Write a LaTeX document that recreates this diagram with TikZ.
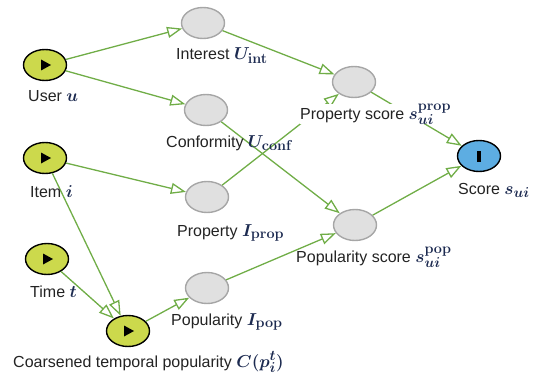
\documentclass[tikz,border=0pt]{standalone}
\usepackage[no-math]{fontspec}
\setmainfont{Liberation Sans}
\usepackage{bm}
\usetikzlibrary{shapes.geometric,arrows.meta}
\definecolor{grn}{RGB}{112,173,71}
\definecolor{limefill}{RGB}{204,217,76}
\definecolor{bluefill}{RGB}{93,173,226}
\definecolor{grayfill}{RGB}{224,224,224}
\definecolor{graybd}{RGB}{166,166,166}
\definecolor{txtc}{RGB}{35,35,35}
\definecolor{mathblue}{RGB}{28,42,80}
\newcommand{\mth}[1]{\textcolor{mathblue}{\fontsize{19}{22}\selectfont\boldmath$#1$}}
\tikzset{
  base/.style={ellipse, minimum width=43pt, minimum height=31pt, inner sep=0pt, line width=1.4pt},
  gnode/.style={base, draw=graybd, fill=grayfill},
  ynode/.style={base, draw=black, fill=limefill},
  bnode/.style={base, draw=black, fill=bluefill},
  lbl/.style={anchor=base west, inner sep=0pt, text=txtc, font=\fontsize{16}{19}\selectfont},
  link/.style={draw=grn, line width=1.3pt, -{Triangle[open, length=15pt, width=11pt, line width=1.3pt]}},
  playicon/.style={fill=black}
}
\begin{document}
\begin{tikzpicture}[x=1pt,y=-1pt]
\useasboundingbox (0,0) rectangle (548,377);
% nodes
\node[ynode] (user) at (45,65) {};
\node[ynode] (item) at (45,158) {};
\node[ynode] (time) at (47,259) {};
\node[ynode] (coarse) at (128,331) {};
\node[gnode] (interest) at (203,23) {};
\node[gnode] (conf) at (206,110) {};
\node[gnode] (prop) at (207,197) {};
\node[gnode] (pop) at (207,288) {};
\node[gnode] (pscore) at (354,82) {};
\node[gnode] (popscore) at (355,225) {};
\node[bnode] (score) at (479,156) {};
% icons
\foreach \n in {user,item,time,coarse}{
  \fill[playicon] ([xshift=-4pt,yshift=5.5pt]\n.center) -- ++(0,-11pt) -- ++(10pt,5.5pt) -- cycle;
}
\fill[black] ([xshift=-2.2pt,yshift=-5.5pt]score.center) rectangle ([xshift=2.2pt,yshift=5.5pt]score.center);
% edges
\draw[link] (user) -- (interest);
\draw[link] (user) -- (conf);
\draw[link] (interest) -- (pscore);
\draw[link] (conf) -- (popscore);
\draw[link] (item) -- (prop);
\draw[link] (item) -- (coarse);
\draw[link] (time) -- (coarse);
\draw[link] (coarse) -- (pop);
\draw[link] (prop) -- (pscore);
\draw[link] (pop) -- (popscore);
\draw[link] (pscore) -- (score);
\draw[link] (popscore) -- (score);
% labels
\node[lbl] (luser) at (28,102) {User \mth{u}};
\node[lbl] (linterest) at (176,60) {Interest \mth{U_{\mathbf{int}}}};
\node[lbl] (lconf) at (166,147) {Conformity \mth{U_{\mathbf{conf}}}};
\node[lbl] (litem) at (30,197) {Item \mth{i}};
\node[lbl] (lprop) at (177,236) {Property \mth{I_{\mathbf{prop}}}};
\node[lbl] (ltime) at (30,297) {Time \mth{t}};
\node[lbl] (lpop) at (171,325) {Popularity \mth{I_{\mathbf{pop}}}};
\node[lbl] (lcoarse) at (13,367) {Coarsened temporal popularity \mth{C(p_{i}^{t})}};
\node[lbl, fill=white] (lpscore) at (300,119) {Property score \mth{s_{ui}^{\mathbf{prop}}}};
\node[lbl] (lscore) at (458,194) {Score \mth{s_{ui}}};
\node[lbl] (lpopscore) at (296,262) {Popularity score \mth{s_{ui}^{\mathbf{pop}}}};
\end{tikzpicture}
\end{document}
